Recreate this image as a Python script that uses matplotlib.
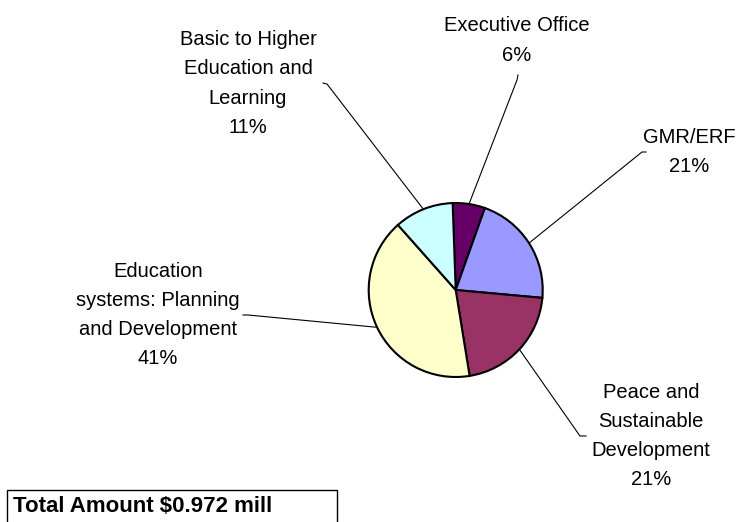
import matplotlib
matplotlib.use("Agg")
import matplotlib.pyplot as plt
from matplotlib.patches import Rectangle
import numpy as np

# Budget share by programme (percent)
categories = [
    "Executive Office",
    "GMR/ERF",
    "Peace and\nSustainable\nDevelopment",
    "Education\nsystems: Planning\nand Development",
    "Basic to Higher\nEducation and\nLearning",
]
shares = [6, 21, 21, 41, 11]
colors = ["#660066", "#9999FF", "#993366", "#FFFFCC", "#CCFFFF"]
total_text = "Total Amount $0.972 mill"

W, H = 737, 522
plt.rcParams["font.family"] = ["Liberation Sans", "DejaVu Sans"]

fig = plt.figure(figsize=(W / 100, H / 100), dpi=100)
ax = fig.add_axes([0, 0, 1, 1])


def px(x, y):
    """Convert top-left pixel position to axes data coordinates."""
    return x, H - y


cx, cy = px(455.7, 290)
R = 87
wedges, _ = ax.pie(shares, colors=colors, startangle=92, counterclock=False,
                   center=(cx, cy), radius=R, frame=True,
                   wedgeprops=dict(edgecolor="black", linewidth=1.5))
ax.set_xlim(0, W)
ax.set_ylim(0, H)
ax.set_aspect("equal")
ax.axis("off")

# label centres and the start of each leader line (pixel positions)
label_pos = [(517, 40.5), (689, 152), (651, 436), (158, 315), (248, 83.5)]
leader_start = [
    [(518, 75), (517, 80)],
    [(646, 152), (642, 152)],
    [(586, 436), (580, 436)],
    [(243, 315), (248, 315)],
    [(323, 83), (327, 84)],
]

for w, name, val, (lx, ly), pts in zip(wedges, categories, shares, label_pos, leader_start):
    mid = np.deg2rad((w.theta1 + w.theta2) / 2)
    ex, ey = cx + R * np.cos(mid), cy + R * np.sin(mid)
    xs = [px(*p)[0] for p in pts] + [ex]
    ys = [px(*p)[1] for p in pts] + [ey]
    ax.plot(xs, ys, color="black", lw=0.8, zorder=0.5)
    tx, ty = px(lx, ly)
    ax.text(tx, ty, f"{name}\n{val:.0f}%", ha="center", va="center",
            multialignment="center", fontsize=14.5, linespacing=1.68,
            color="black")

# total amount box at the bottom left
bx, by = px(7, 490)
ax.add_patch(Rectangle((bx, by - 45), 330, 45, fill=False,
                       edgecolor="black", lw=1.0))
tx, ty = px(13, 507)
ax.text(tx, ty, total_text, ha="left", va="center", fontsize=16,
        fontweight="bold", color="black")

fig.savefig("out.png", dpi=100)
